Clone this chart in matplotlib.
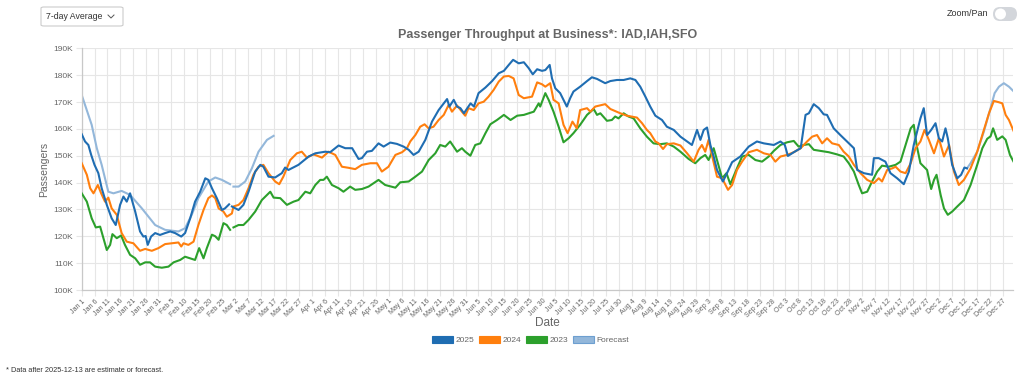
import numpy as np
import pandas as pd
import matplotlib
matplotlib.use("Agg")
import matplotlib.pyplot as plt
from matplotlib.patches import Patch, FancyBboxPatch, Ellipse

plt.rcParams['font.family'] = ['Liberation Sans', 'DejaVu Sans']

nan = np.nan

# day of year (0 = Jan 1) and 7-day average passengers (thousands)
days_2025 = [0, 1.3, 2.6, 3.7, 5, 6.5, 7.8, 9.8, 11.7, 13.3, 15, 16.3, 17.6, 18.9, 20.9, 22.8, 24.1, 25, 25.8, 27.1,
             28.7, 30.6, 32.6, 34.6, 36.5, 38.9, 40.4, 42.4, 44.3, 46.3, 48.3, 49.5, 50.9, 52.8, 54.8, 56, 57.6, 58.2,
             58.7, 61.3, 63.2, 65.2, 67.8, 69.8, 71, 73, 75.6, 78.2, 79.5, 80.8, 84.7, 88.7, 91.3, 95.2, 97.1, 100.4,
             103, 105.7, 106.9, 108.2, 109.5, 111.5, 113.4, 116, 118, 120.6, 123.2, 125.8, 127.8, 129.7, 131.7, 134.3,
             136.9, 139.5, 141.5, 142.8, 143.7, 145.4, 146.7, 148, 149.4, 150.7, 152, 153.3, 155.1, 157.8, 160.4, 163,
             165, 166.9, 168.6, 170.8, 172.8, 174.7, 176.3, 178, 179.9, 181.2, 182.9, 183.8, 185.1, 187, 189.6, 190.9,
             192.2, 194.8, 197.5, 199.4, 201.4, 204.6, 206.6, 209.2, 211.8, 214.4, 216.4, 218.3, 220.3, 222.2, 224.2,
             226.8, 228.7, 231.4, 234, 236.6, 238.5, 240.5, 241.8, 243.1, 244.4, 245.7, 247, 248.3, 250.6, 252.2, 254.2,
             257.4, 260.7, 263.9, 266.6, 270.5, 273.1, 274.8, 276, 278.3, 281, 282.9, 284.2, 286.1, 288.1, 290, 291.3,
             293.9, 296.5, 299.1, 301.8, 303.1, 305.7, 308.9, 309.6, 311.5, 314.1, 316.1, 318.7, 321.3, 323.3, 325.2,
             327.8, 329.1, 330.4, 332, 333.7, 335, 336.3, 337.6, 338.5, 340.2, 342.2, 343.7, 345, 346]
vals_2025 = [158, 155.3, 154, 150.3, 146.6, 143.5, 137.9, 131.7, 126.7, 124.2, 131.7, 134.8, 132.9, 136, 129.2, 121.8,
             119.9, 120.1, 116.8, 119.9, 121.2, 120.5, 121.2, 121.8, 121.2, 119.9, 121.2, 126.7, 132.9, 136.6, 141.6,
             141, 137.9, 134.2, 129.8, 130.4, 131.9, nan, 131.1, 129.8, 131.7, 136.6, 144.1, 146.6, 145.9, 142.2, 141.9,
             143.5, 145.6, 144.7, 146.6, 149.7, 150.9, 151.5, 151.3, 153.8, 152.8, 152.8, 150.9, 148.8, 149.1, 151.5,
             151.8, 154.6, 153.4, 154.9, 154.4, 153.4, 152.2, 150.3, 151.5, 155.9, 162.7, 167, 169.5, 171.1, 168.3,
             170.8, 168.3, 167.7, 165.8, 167.7, 169.5, 168.3, 173.3, 175.4, 177.8, 180.7, 181.6, 183.8, 185.7, 184.4,
             184.8, 182.6, 180.3, 182.2, 181.6, 181.9, 183.8, 178.8, 175.1, 173.3, 168.3, 171.4, 173.9, 175.7, 177.8,
             179.2, 178.6, 177, 177.8, 178.2, 178.2, 178.8, 178.2, 175.7, 172, 168.3, 164.9, 163.3, 160.8, 159.6, 157.1,
             155.3, 154, 159.6, 155.9, 159.6, 160.5, 154, 149.7, 144.7, 140.4, 143.5, 147.6, 149.7, 153.4, 155.3, 154.6,
             154, 155.3, 154, 149.9, 151.3, 152.8, 165.2, 165.8, 169.2, 167.7, 165.4, 165.2, 160.2, 157.7, 155.3, 152.8,
             144.7, 143.5, 142.9, 149.1, 149.1, 147.8, 143.5, 141.6, 139.4, 144.1, 154, 163.9, 167.7, 157.7, 159.6,
             162.1, 156.5, 155.3, 160.2, 156.5, 146.6, 141.6, 142.9, 145.6, 145.3]

days_2024 = [0, 2, 3.3, 4.6, 6.3, 7.6, 9.1, 10.4, 11.7, 13.7, 15.6, 17.6, 20.2, 22.8, 24.8, 27.4, 30, 32.6, 35.2, 37.8,
             38.9, 39.8, 41.7, 43.7, 45.6, 47.6, 49.5, 50.9, 52.2, 53.5, 55.4, 56.7, 58.7, 59.3, 61.3, 63.2, 65.2, 67.1,
             69.1, 71, 73, 75.6, 77.2, 78.8, 81.5, 84.1, 86, 88, 90.6, 93.9, 96.5, 99.1, 101.7, 104.3, 106.9, 109.5,
             112.8, 115.4, 117.3, 119.9, 122.6, 125.2, 127.1, 128.4, 130.4, 132.3, 134, 135.6, 137.5, 139.5, 141.5,
             143.4, 144.7, 146.7, 148.6, 149.9, 151.2, 153.2, 155.1, 157.1, 159, 161, 163, 165, 166.9, 168.8, 170.8,
             172.8, 176, 178, 179.9, 181.2, 183.1, 184.4, 186.4, 188.3, 189.9, 191.8, 193.5, 194.8, 197.5, 198.8, 200.7,
             204.6, 206.6, 210.5, 213.1, 217, 219, 220.9, 222.2, 224.2, 225.5, 227.2, 228.7, 231.4, 234, 236.6, 239.2,
             241.1, 242.4, 243.7, 245, 246.3, 248.3, 250.3, 252.6, 254.2, 256.1, 258.1, 260.7, 263.9, 266.6, 269.2,
             271.1, 273.1, 275.7, 278.3, 281, 283.5, 285.5, 287.4, 289.4, 291.3, 293.3, 295.9, 297.8, 299.8, 301.8,
             304.4, 307, 309.6, 311.5, 312.8, 314.8, 316.8, 318.1, 320, 322, 324, 325.9, 327.8, 329.4, 331.1, 333.1,
             335, 337, 339, 340.9, 342.8, 344.8, 347.4, 350, 352.6, 354.6, 356.5, 358.5, 359.8, 361.1, 362.4, 364.3]
vals_2024 = [147.2, 142.9, 137.9, 136, 139.1, 136, 132.9, 134.4, 130.4, 128, 121.2, 118, 117.4, 114.6, 115.3, 114.6,
             115.6, 117.1, 117.4, 117.7, 116.2, 117.4, 116.8, 118, 124.2, 129.8, 134.2, 135.2, 134.2, 130.4, 129.2,
             127.3, 128.5, 131.1, 131.7, 133.5, 137.9, 142.9, 145.9, 146.6, 143.5, 140.4, 139.4, 142.2, 148.4, 150.9,
             151.5, 149.3, 150.5, 149.3, 151.5, 150.3, 145.9, 145.5, 145, 146.6, 147.2, 147.2, 144.1, 145.9, 150.3,
             151.3, 152.8, 155.3, 157.7, 160.8, 161.7, 160.2, 160.8, 163.3, 165.2, 168.9, 166.4, 168.7, 166.4, 164.9,
             167.7, 167, 169.5, 170.1, 172, 174.5, 177.6, 179.5, 179.7, 178.8, 172.6, 171.4, 172, 177.3, 176.6, 175.7,
             177, 170.8, 169.5, 161.5, 158.4, 162.7, 160.2, 167, 167.7, 166.4, 168.3, 169.2, 167.4, 165.8, 164.9, 164.2,
             162.1, 159.6, 158.4, 155.3, 154.6, 152.5, 154.3, 154.6, 153.8, 150.9, 147.8, 152.2, 154, 151.5, 155.9,
             150.3, 142.2, 141.6, 137.3, 139.1, 144.7, 147.8, 151.3, 152.2, 150.9, 150.3, 147.8, 149.7, 150.3, 151.3,
             152.8, 155.3, 157.1, 157.7, 154.6, 156.5, 154.6, 154, 151.5, 149.7, 146.6, 143.5, 141, 139.8, 141.6, 140.4,
             144.7, 145.3, 145.9, 144.1, 143.5, 147.2, 152.8, 155.3, 159.6, 155.9, 150.9, 156.5, 149.7, 154, 144.1,
             139.1, 141, 145.3, 151.5, 159.6, 165.8, 170.4, 169.9, 169.5, 165.2, 163.3, 159]

days_2023 = [0, 2, 3.9, 5.5, 7.2, 8.5, 9.8, 11.1, 12, 13.7, 15.4, 16.9, 18.9, 20.9, 22.8, 24.8, 26.7, 28.7, 31.3, 33.9,
             35.9, 38.5, 40.4, 42.4, 44.3, 45.9, 47.6, 48.9, 50.9, 52.2, 53.5, 55.4, 56.7, 58, 58.6, 59.3, 61.3, 63.2,
             65.2, 67.8, 70.4, 72.4, 73.7, 75, 77.6, 80.2, 82.8, 84.7, 87.4, 89.3, 91.3, 93.2, 94.5, 95.8, 97.8, 100.4,
             102.3, 104.9, 106.9, 109.5, 112.1, 116, 118.6, 122.6, 124.5, 127.8, 130.4, 133, 135.6, 138.2, 140.1, 142.1,
             144, 146.7, 148.6, 149.9, 151.9, 153.8, 155.8, 157.8, 159.7, 162.3, 165, 167.6, 170.2, 172.8, 174.7, 176.7,
             178.6, 179.2, 181.2, 182.5, 184.4, 186.4, 188.3, 190.3, 192.2, 194.8, 197.5, 200.1, 201.4, 202.7, 205.3,
             207.2, 208.5, 209.8, 211.8, 213.7, 215.7, 218.3, 220.9, 223.5, 226.1, 228.7, 231.4, 234, 237.2, 239.8,
             241.8, 243.7, 245, 247, 248.3, 250.3, 252, 253.5, 256.1, 258.1, 260.7, 263.3, 265.9, 268.5, 270.5, 273.1,
             275.7, 278.3, 280.2, 282.2, 284.2, 286.1, 288.7, 292, 295.2, 297.8, 299.8, 301.8, 303.7, 305, 307, 308.9,
             310.9, 312.8, 315.4, 318.1, 320, 322, 324, 325.2, 326.3, 327.8, 330.4, 332, 333.1, 334.1, 335.7, 337,
             338.5, 340.2, 342.2, 344.8, 347.4, 350, 352, 353.9, 355.2, 356.2, 357.8, 359.8, 361.1, 362.8, 364.3]
vals_2023 = [136, 132.9, 126.7, 123.3, 123.6, 119.3, 114.9, 116.8, 120.8, 119.3, 120.3, 116.8, 113.1, 111.8, 109.4,
             110.3, 110.3, 108.7, 108.3, 108.7, 110.3, 111.2, 112.4, 111.8, 111.2, 115.6, 111.8, 115.6, 120.6, 120,
             118.7, 124.9, 124.2, 122.4, nan, 123.3, 124.2, 124.2, 126.1, 129.2, 133.5, 135.4, 136.6, 134.4, 134.2,
             131.7, 132.9, 133.5, 136.6, 136, 139.1, 141, 141, 142.2, 139.1, 137.9, 136.6, 138.5, 137.3, 137.6, 138.5,
             141, 139.1, 138.1, 140.1, 140.4, 142.2, 144.1, 148.4, 150.9, 154, 153.4, 155.3, 151.5, 152.8, 151.5, 150,
             154, 154.6, 158.4, 161.7, 163.3, 165.2, 163.3, 164.9, 165.2, 165.8, 166.4, 169.5, 168.3, 173.3, 170.8,
             166.4, 160.8, 155, 156.5, 158.4, 161.5, 165.2, 167.4, 165.2, 165.8, 163, 163.3, 164.6, 163.9, 165.8, 164.6,
             163.9, 160.2, 157.1, 154.6, 154.3, 154.6, 153.4, 151.5, 148.8, 147.2, 149.1, 150.3, 148.4, 152.8, 148.4,
             141.6, 143.5, 139.4, 145.3, 149.7, 150.3, 148.4, 147.8, 149.7, 151.8, 154, 155, 155.5, 153.4, 154, 154.3,
             152.2, 151.8, 151.3, 150.5, 149.7, 147.2, 144.1, 139.1, 136, 136.6, 140.4, 144.1, 146.3, 145.9, 146.6,
             147.8, 154, 160.2, 161.5, 154, 147.2, 144.7, 137.6, 141, 142.9, 135.4, 130.4, 128, 129.2, 131.1, 133.5,
             139.1, 146.6, 152.8, 156.3, 157.2, 160.2, 155.9, 157.2, 155.9, 150.3, 147.6]

days_fc = [0, 3.9, 5.9, 7.8, 10.4, 12.4, 15.6, 18.9, 23.5, 28.7, 32.6, 37.8, 40.4, 43, 45.6, 49.5, 52.2, 54.8, 58, 58.6,
           59.3, 61.3, 63.9, 66.5, 69.1, 72.4, 75, 75.5,
           346, 347.4, 350, 352.6, 355.2, 356.8, 358.5, 360.4, 362.4, 364.3]
vals_fc = [172.6, 161.5, 152.8, 146.6, 136.6, 136, 136.9, 135.4, 130.4, 124.2, 122.4, 121.8, 123, 128, 134.2, 140.4,
           141.9, 141, 139.4, nan, 138.5, 138.5, 140.4, 145.3, 151.5, 155.9, 157.4, nan,
           145.3, 147.2, 151.5, 159, 167.7, 173.3, 175.7, 177, 175.7, 173.9]

series = [
    ("2025", days_2025, vals_2025, "#1f6db2"),
    ("2024", days_2024, vals_2024, "#ff7f0e"),
    ("2023", days_2023, vals_2023, "#2ca02c"),
    ("Forecast", days_fc, vals_fc, "#93b7da"),
]

dates = pd.date_range("2025-01-01", "2025-12-31")
tick_pos = np.arange(0, 365, 5)
tick_lbl = [f"{dates[i]:%b} {dates[i].day}" for i in tick_pos]
y_ticks = np.arange(100, 191, 10)

grey = "#666666"
grid = "#e6e6e6"

fig = plt.figure(figsize=(10.24, 3.79), dpi=100)
ax = fig.add_axes([0.0798, 0.2348, 0.9095, 0.6378])

for name, d, v, c in series[::-1]:
    ax.plot(d, v, color=c, lw=1.5, solid_joinstyle="round", zorder=3 if name != "Forecast" else 2)

ax.set_xlim(0, 364)
ax.set_ylim(100, 190)
ax.set_xticks(tick_pos)
ax.set_xticklabels(tick_lbl, rotation=45, ha="right", rotation_mode="anchor", fontsize=5.1, color=grey)
ax.set_yticks(y_ticks)
ax.set_yticklabels([f"{t}K" for t in y_ticks], fontsize=6, color=grey)
ax.tick_params(axis="both", length=4, width=0.8, color=grid, pad=2)
ax.tick_params(axis="x", pad=1.5)
ax.grid(True, color=grid, lw=0.8)
ax.set_axisbelow(True)
for s in ["top", "right"]:
    ax.spines[s].set_visible(False)
for s in ["left", "bottom"]:
    ax.spines[s].set_color("#c8c8c8")
    ax.spines[s].set_linewidth(0.9)

ax.set_ylabel("Passengers", fontsize=7.5, color=grey, labelpad=3)
ax.set_xlabel("Date", fontsize=8.5, color=grey)
ax.xaxis.set_label_coords(0.5, -0.112)

fig.text(0.535, 0.907, "Passenger Throughput at Business*: IAD,IAH,SFO", ha="center", va="center",
         fontsize=9, fontweight="bold", color=grey)

handles = [Patch(facecolor=c, edgecolor=c if n != "Forecast" else "#6d9fd0", lw=0.8, label=n) for n, _, _, c in series]
fig.legend(handles=handles, loc="center", bbox_to_anchor=(0.518, 0.103), ncol=4, frameon=False,
           fontsize=6, handlelength=2.6, handleheight=0.9, handletextpad=0.3, columnspacing=0.5,
           labelcolor=grey)

# dropdown
fig.patches.append(FancyBboxPatch((41 / 1024, 1 - 26 / 379), 82 / 1024, 19 / 379, boxstyle="round,pad=0,rounding_size=0.003",
                                  transform=fig.transFigure, facecolor="white", edgecolor="#cccccc", lw=0.8))
fig.text(46 / 1024, 1 - 16.5 / 379, "7-day Average", fontsize=6.3, color="#333333", va="center")
fig.add_artist(plt.Line2D([108 / 1024, 111 / 1024, 114 / 1024], [1 - 15 / 379, 1 - 18 / 379, 1 - 15 / 379],
                          transform=fig.transFigure, color="#555555", lw=0.7))

# zoom / pan toggle
fig.text(988 / 1024, 1 - 14 / 379, "Zoom/Pan", fontsize=6.5, color="#333333", ha="right", va="center")
fig.patches.append(FancyBboxPatch((993 / 1024, 1 - 21 / 379), 24 / 1024, 14 / 379,
                                  boxstyle="round,pad=0,rounding_size=0.0068", mutation_aspect=2.7,
                                  transform=fig.transFigure, facecolor="#d3d6db", edgecolor="none"))
fig.patches.append(Ellipse((1000.5 / 1024, 1 - 14 / 379), 11 / 1024, 11 / 379, transform=fig.transFigure,
                           facecolor="white", edgecolor="none"))

fig.text(6 / 1024, 1 - 370 / 379, "* Data after 2025-12-13 are estimate or forecast.", fontsize=5.3,
         color="#333333", va="center")

fig.savefig("out.png", dpi=100)
